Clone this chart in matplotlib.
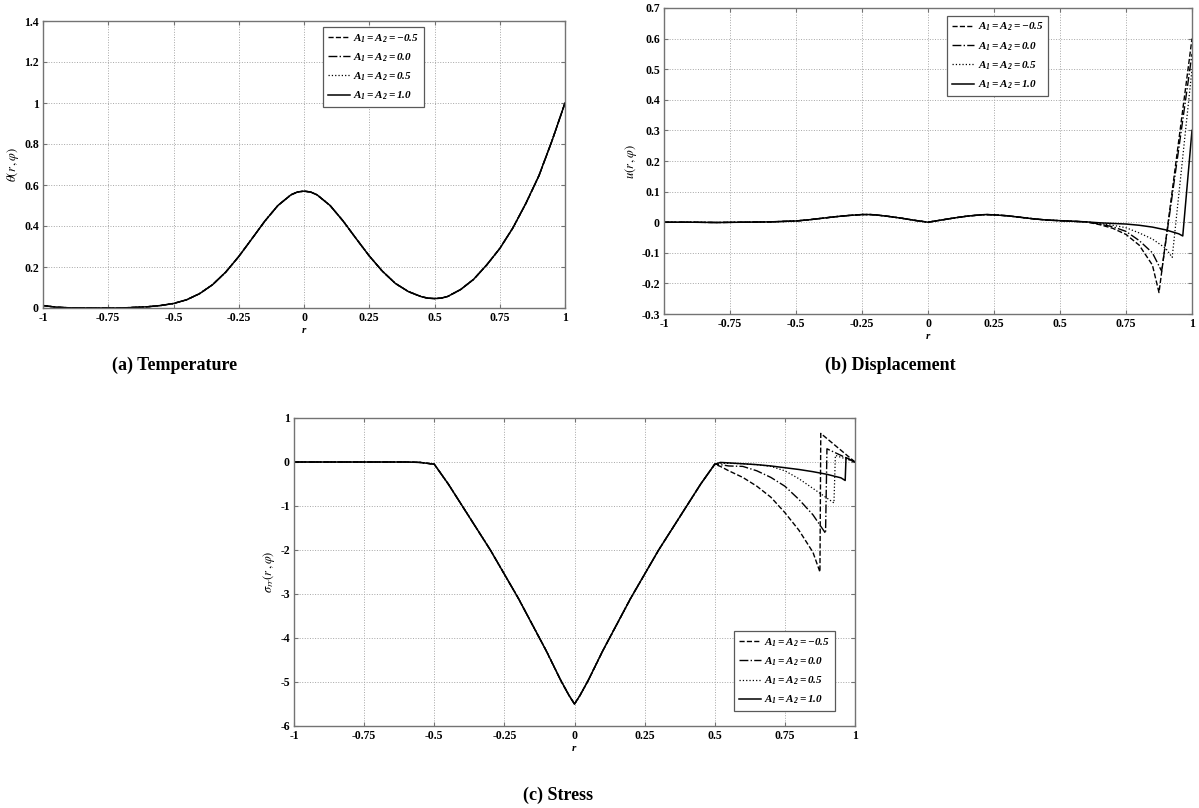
import matplotlib
matplotlib.use('Agg')
import matplotlib.pyplot as plt

plt.rcParams['font.family'] = ['Liberation Serif', 'DejaVu Serif']
plt.rcParams['mathtext.fontset'] = 'custom'
plt.rcParams['mathtext.rm'] = 'Liberation Serif:bold:italic'
plt.rcParams['mathtext.it'] = 'Liberation Serif:bold:italic'
plt.rcParams['mathtext.bf'] = 'Liberation Serif:bold:italic'
plt.rcParams['axes.unicode_minus'] = False

# legend labels
labels = ['$A_1 = A_2 = -0.5$', '$A_1 = A_2 = 0.0$', '$A_1 = A_2 = 0.5$', '$A_1 = A_2 = 1.0$']

# ticks
r_ticks = [-1, -0.75, -0.5, -0.25, 0, 0.25, 0.5, 0.75, 1]
r_ticklabels = ['-1', '-0.75', '-0.5', '-0.25', '0', '0.25', '0.5', '0.75', '1']
theta_ticks = [0, 0.2, 0.4, 0.6, 0.8, 1.0, 1.2, 1.4]
theta_ticklabels = ['0', '0.2', '0.4', '0.6', '0.8', '1', '1.2', '1.4']
u_ticks = [-0.3, -0.2, -0.1, 0, 0.1, 0.2, 0.3, 0.4, 0.5, 0.6, 0.7]
u_ticklabels = ['-0.3', '-0.2', '-0.1', '0', '0.1', '0.2', '0.3', '0.4', '0.5', '0.6', '0.7']
sig_ticks = [-6, -5, -4, -3, -2, -1, 0, 1]
sig_ticklabels = ['-6', '-5', '-4', '-3', '-2', '-1', '0', '1']

# (a) temperature - all four cases coincide
r_theta = [-1, -0.95, -0.9, -0.8, -0.7, -0.6, -0.55, -0.5, -0.45, -0.4, -0.35, -0.3,
           -0.25, -0.2, -0.15, -0.1, -0.05, -0.025, 0, 0.025, 0.05, 0.1, 0.15, 0.2, 0.25,
           0.3, 0.35, 0.4, 0.45, 0.475, 0.5, 0.525, 0.55, 0.6, 0.65, 0.7, 0.75, 0.8, 0.85,
           0.9, 0.95, 1.0]
theta = [0.012, 0.004, 0.001, 0.0, 0.0, 0.006, 0.012, 0.022, 0.04, 0.07, 0.114, 0.175,
         0.251, 0.337, 0.424, 0.50, 0.552, 0.566, 0.57, 0.566, 0.552, 0.50, 0.424, 0.338,
         0.254, 0.18, 0.12, 0.08, 0.055, 0.048, 0.046, 0.048, 0.056, 0.09, 0.14, 0.21,
         0.29, 0.39, 0.51, 0.645, 0.815, 1.0]

# (b) displacement - common part then one tail per case
r_u_base = [-1, -0.9, -0.8, -0.7, -0.6, -0.5, -0.45, -0.4, -0.35, -0.3, -0.25, -0.22,
            -0.2, -0.15, -0.1, -0.05, 0, 0.05, 0.1, 0.15, 0.2, 0.22, 0.25, 0.3, 0.35,
            0.4, 0.45, 0.5, 0.55, 0.6]
u_base = [0.0, 0.0, -0.001, 0.0, 0.001, 0.004, 0.008, 0.013, 0.018, 0.022, 0.025, 0.025,
          0.024, 0.019, 0.013, 0.006, 0.0, 0.007, 0.014, 0.02, 0.024, 0.025, 0.024, 0.021,
          0.016, 0.011, 0.007, 0.005, 0.003, 0.001]
r_u_tail_m05 = [0.65, 0.7, 0.75, 0.8, 0.85, 0.875, 1.0]
u_tail_m05 = [-0.008, -0.02, -0.04, -0.075, -0.14, -0.23, 0.6]
r_u_tail_00 = [0.65, 0.7, 0.75, 0.8, 0.85, 0.885, 1.0]
u_tail_00 = [-0.006, -0.015, -0.03, -0.06, -0.1, -0.16, 0.55]
r_u_tail_05 = [0.65, 0.7, 0.75, 0.8, 0.85, 0.9, 0.925, 1.0]
u_tail_05 = [-0.004, -0.01, -0.018, -0.035, -0.055, -0.085, -0.115, 0.5]
r_u_tail_10 = [0.65, 0.7, 0.75, 0.8, 0.85, 0.9, 0.95, 0.965, 1.0]
u_tail_10 = [-0.002, -0.004, -0.006, -0.01, -0.016, -0.025, -0.038, -0.045, 0.3]

# (c) stress - common part then one tail per case
r_s_base = [-1, -0.9, -0.8, -0.7, -0.6, -0.55, -0.5, -0.45, -0.4, -0.35, -0.3, -0.25,
            -0.2, -0.15, -0.1, -0.05, -0.02, 0, 0.02, 0.05, 0.1, 0.15, 0.2, 0.25, 0.3,
            0.35, 0.4, 0.45, 0.5]
s_base = [0.0, 0.0, 0.0, 0.0, 0.0, -0.01, -0.05, -0.5, -1.0, -1.5, -2.0, -2.55,
          -3.1, -3.7, -4.3, -4.95, -5.3, -5.5, -5.3, -4.95, -4.3, -3.7, -3.1, -2.55, -2.0,
          -1.5, -1.0, -0.5, -0.05]
r_s_tail_m05 = [0.52, 0.55, 0.6, 0.65, 0.7, 0.75, 0.8, 0.85, 0.875, 0.878, 1.0]
s_tail_m05 = [-0.1, -0.2, -0.35, -0.55, -0.8, -1.15, -1.55, -2.05, -2.5, 0.65, 0.0]
r_s_tail_00 = [0.52, 0.55, 0.6, 0.65, 0.7, 0.75, 0.8, 0.85, 0.895, 0.9, 1.0]
s_tail_00 = [-0.06, -0.09, -0.1, -0.2, -0.35, -0.55, -0.85, -1.2, -1.62, 0.3, 0.0]
r_s_tail_05 = [0.52, 0.55, 0.6, 0.65, 0.7, 0.75, 0.8, 0.85, 0.9, 0.925, 0.93, 1.0]
s_tail_05 = [-0.03, -0.03, -0.04, -0.06, -0.1, -0.2, -0.38, -0.6, -0.82, -0.93, 0.15, 0.0]
r_s_tail_10 = [0.52, 0.55, 0.6, 0.65, 0.7, 0.75, 0.8, 0.85, 0.9, 0.95, 0.965, 0.968, 1.0]
s_tail_10 = [-0.01, -0.02, -0.04, -0.06, -0.09, -0.13, -0.17, -0.22, -0.28, -0.36, -0.42, 0.1, 0.0]

styles = [dict(ls='--', lw=1.0), dict(ls='-.', lw=1.0), dict(ls=':', lw=0.9), dict(ls='-', lw=1.1)]


def style_axes(ax, yticks, yticklabels, ylim):
    ax.set_xlim(-1, 1)
    ax.set_ylim(*ylim)
    ax.set_xticks(r_ticks)
    ax.set_xticklabels(r_ticklabels)
    ax.set_yticks(yticks)
    ax.set_yticklabels(yticklabels)
    ax.tick_params(direction='in', top=True, right=True, length=3, width=0.8,
                   color='0.45', labelsize=8.5, pad=3)
    for lab in ax.get_xticklabels() + ax.get_yticklabels():
        lab.set_fontweight('bold')
    for sp in ax.spines.values():
        sp.set_color('0.45')
        sp.set_linewidth(1.0)
    ax.grid(True, ls=':', color='0.65', lw=0.7)
    ax.set_axisbelow(True)
    ax.set_xlabel('$r$', fontsize=8, labelpad=1)


def add_legend(ax, anchor):
    leg = ax.legend(loc='upper left', bbox_to_anchor=anchor, fancybox=False,
                    edgecolor='0.35', framealpha=1, fontsize=8, handlelength=2.0,
                    handletextpad=0.3, labelspacing=0.6, borderpad=0.45,
                    borderaxespad=0)
    leg.get_frame().set_linewidth(0.9)


W, H = 1199, 808
fig = plt.figure(figsize=(W / 100, H / 100), dpi=100)

# (a)
ax_a = fig.add_axes([43 / W, 1 - 308 / H, 522 / W, 287 / H])
for lab, st in zip(labels, styles):
    ax_a.plot(r_theta, theta, color='k', label=lab, **st)
style_axes(ax_a, theta_ticks, theta_ticklabels, (0, 1.4))
ax_a.set_ylabel(r'$\theta(r\,,\varphi)$', fontsize=9, math_fontfamily='stix', labelpad=2)
add_legend(ax_a, (0.536, 0.979))

# (b)
ax_b = fig.add_axes([664 / W, 1 - 314 / H, 528 / W, 306 / H])
u_tails = [(r_u_tail_m05, u_tail_m05), (r_u_tail_00, u_tail_00),
           (r_u_tail_05, u_tail_05), (r_u_tail_10, u_tail_10)]
for lab, st, (rt, ut) in zip(labels, styles, u_tails):
    ax_b.plot(r_u_base + rt, u_base + ut, color='k', label=lab, **st)
style_axes(ax_b, u_ticks, u_ticklabels, (-0.3, 0.7))
ax_b.set_ylabel(r'$u(r\,,\varphi)$', fontsize=9, math_fontfamily='stix', labelpad=2)
add_legend(ax_b, (0.536, 0.974))

# (c)
ax_c = fig.add_axes([294 / W, 1 - 726 / H, 561 / W, 308 / H])
s_tails = [(r_s_tail_m05, s_tail_m05), (r_s_tail_00, s_tail_00),
           (r_s_tail_05, s_tail_05), (r_s_tail_10, s_tail_10)]
for lab, st, (rt, stl) in zip(labels, styles, s_tails):
    ax_c.plot(r_s_base + rt, s_base + stl, color='k', label=lab, **st)
style_axes(ax_c, sig_ticks, sig_ticklabels, (-6, 1))
ax_c.set_ylabel(r'$\sigma_{rr}(r\,,\varphi)$', fontsize=9, math_fontfamily='stix', labelpad=2)
add_legend(ax_c, (0.784, 0.308))

# captions
fig.text(175 / W, 1 - 365 / H, '(a) Temperature', ha='center', va='center',
         fontsize=13, fontweight='bold')
fig.text(890 / W, 1 - 365 / H, '(b) Displacement', ha='center', va='center',
         fontsize=13, fontweight='bold')
fig.text(558 / W, 1 - 795 / H, '(c) Stress', ha='center', va='center',
         fontsize=13, fontweight='bold')

fig.savefig('out.png', dpi=100)
